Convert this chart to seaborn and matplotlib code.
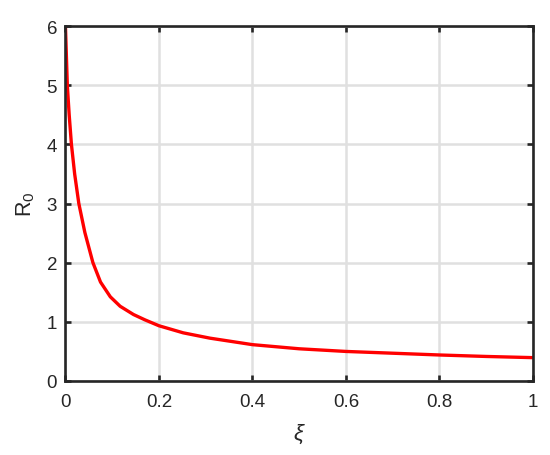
import matplotlib
matplotlib.use("Agg")
import matplotlib.pyplot as plt
import pandas as pd
import seaborn as sns

# values
xi = [0, 0.004, 0.008, 0.0128, 0.0197, 0.0286, 0.0415, 0.0587, 0.075, 0.096,
      0.117, 0.1456, 0.17, 0.2, 0.252, 0.309, 0.4, 0.5, 0.6, 0.7, 0.8, 0.9, 1.0]
r0 = [6.0, 5.0, 4.5, 4.0, 3.5, 3.0, 2.51, 2.0, 1.67, 1.42,
      1.26, 1.12, 1.03, 0.93, 0.81, 0.72, 0.61, 0.54, 0.495, 0.465, 0.435, 0.41, 0.39]

xticks = [0, 0.2, 0.4, 0.6, 0.8, 1]
xticklabels = ["0", "0.2", "0.4", "0.6", "0.8", "1"]
yticks = [0, 1, 2, 3, 4, 5, 6]

df = pd.DataFrame({"xi": xi, "R0": r0})

sns.set_style("ticks")
plt.rcParams["font.family"] = ["Liberation Sans", "DejaVu Sans"]
plt.rcParams["mathtext.fontset"] = "custom"
plt.rcParams["mathtext.rm"] = "Liberation Sans"
plt.rcParams["mathtext.it"] = "Liberation Sans:italic"

fig = plt.figure(figsize=(5.5, 4.56), dpi=100)
ax = fig.add_axes([0.119, 0.163, 0.850, 0.777])

sns.lineplot(data=df, x="xi", y="R0", ax=ax, color="#ff0000", linewidth=2.4)

ax.set_xlim(0, 1)
ax.set_ylim(0, 6)
ax.set_xticks(xticks)
ax.set_xticklabels(xticklabels)
ax.set_yticks(yticks)
ax.grid(True, color="#e0e0e0", linewidth=1.8)
ax.set_axisbelow(True)

for s in ax.spines.values():
    s.set_visible(True)
    s.set_color("#262626")
    s.set_linewidth(1.9)

ax.tick_params(direction="in", length=4, width=1.9, color="#262626",
               labelsize=13.5, labelcolor="#262626",
               top=True, right=True)
ax.tick_params(axis="x", pad=9)
ax.tick_params(axis="y", pad=6)

ax.set_xlabel(r"$\xi$", fontsize=16, color="#262626", labelpad=8)
ax.set_ylabel(r"R$_0$", fontsize=15.5, color="#262626", labelpad=7)

fig.savefig("out.png", dpi=100)
